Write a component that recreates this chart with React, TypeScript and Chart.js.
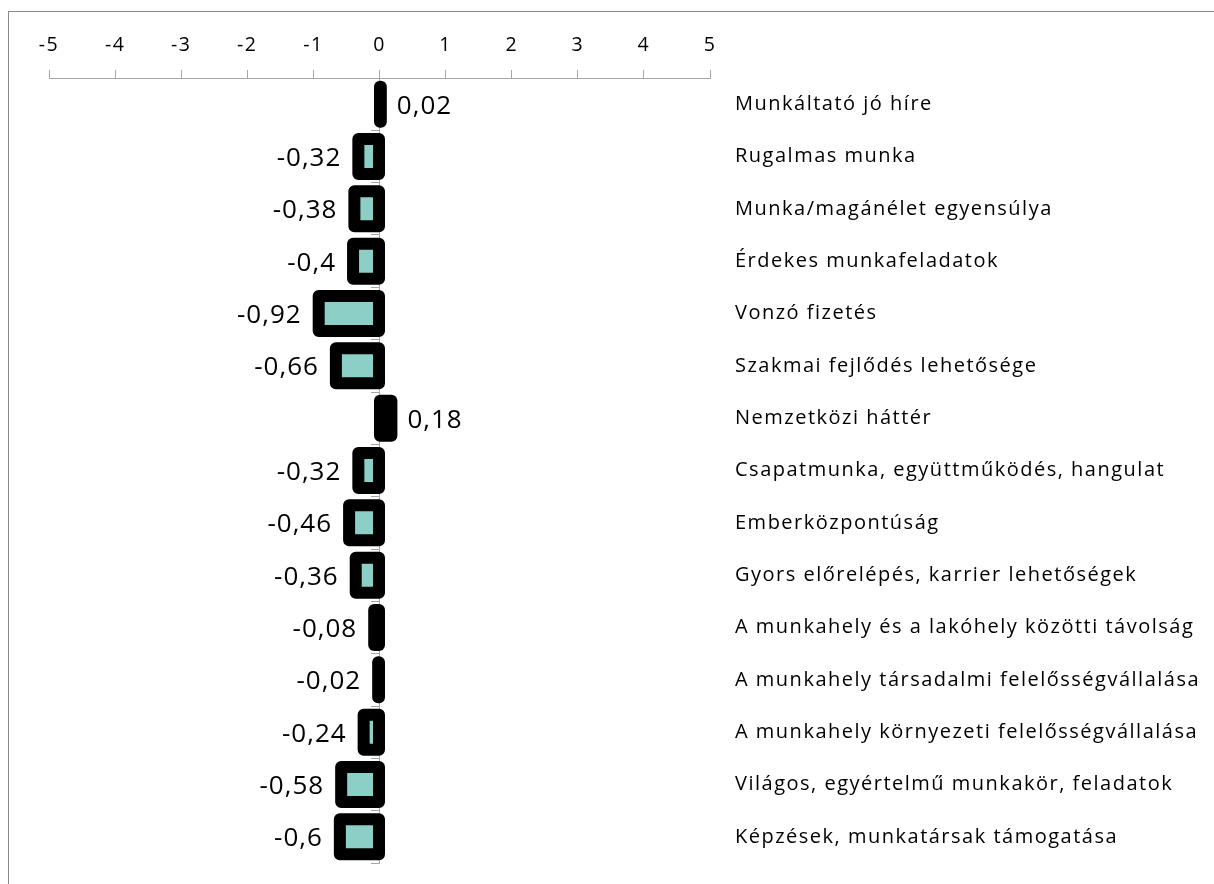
import { useEffect, useRef } from "react";
import { Chart, registerables } from "chart.js";

Chart.register(...registerables);

// Factors of an attractive workplace, with their average score
const categories = [
  "Munkáltató jó híre",
  "Rugalmas munka",
  "Munka/magánélet egyensúlya",
  "Érdekes munkafeladatok",
  "Vonzó fizetés",
  "Szakmai fejlődés lehetősége",
  "Nemzetközi háttér",
  "Csapatmunka, együttműködés, hangulat",
  "Emberközpontúság",
  "Gyors előrelépés, karrier lehetőségek",
  "A munkahely és a lakóhely közötti távolság",
  "A munkahely társadalmi felelősségvállalása",
  "A munkahely környezeti felelősségvállalása",
  "Világos, egyértelmű munkakör, feladatok",
  "Képzések, munkatársak támogatása",
];

const scores = [
  0.02, -0.32, -0.38, -0.4, -0.92, -0.66, 0.18, -0.32, -0.46, -0.36, -0.08,
  -0.02, -0.24, -0.58, -0.6,
];

const axisMin = -5;
const axisMax = 5;

const FONT = "'Open Sans', Lato, sans-serif";
const AXIS_GREY = "#a6a6a6";
const FILL = "#8ccfc6";

const formatHu = (v: number) => String(v).replace(".", ",");

// Thick black outline centred on each bar edge, plus the value labels
const barDecor = {
  id: "barDecor",
  beforeLayout(chart: any) {
    (chart.ctx as any).letterSpacing = "1.5px";
  },
  beforeDraw(chart: any) {
    (chart.ctx as any).letterSpacing = "1.5px";
  },
  afterDatasetsDraw(chart: any) {
    const ctx = chart.ctx as CanvasRenderingContext2D;
    const meta = chart.getDatasetMeta(0);
    ctx.save();
    ctx.strokeStyle = "#000";
    ctx.lineWidth = 12;
    ctx.lineJoin = "round";
    meta.data.forEach((bar: any) => {
      const { x, y, base, height } = bar.getProps(["x", "y", "base", "height"], true);
      const left = Math.min(x, base);
      const w = Math.abs(x - base);
      ctx.strokeRect(left, y - height / 2, w, height);
    });
    ctx.font = `26px ${FONT}`;
    (ctx as any).letterSpacing = "1px";
    ctx.fillStyle = "#000";
    ctx.textBaseline = "middle";
    meta.data.forEach((bar: any, i: number) => {
      const v = scores[i];
      const { x, y } = bar.getProps(["x", "y"], true);
      if (v >= 0) {
        ctx.textAlign = "left";
        ctx.fillText(formatHu(v), x + 16, y + 2);
      } else {
        ctx.textAlign = "right";
        ctx.fillText(formatHu(v), x - 17, y + 2);
      }
    });
    ctx.restore();
    // category names are drawn after the bars, slightly wider tracked
    (ctx as any).letterSpacing = "2.2px";
  },
};

export default function App() {
  const canvasRef = useRef<HTMLCanvasElement | null>(null);

  useEffect(() => {
    if (!canvasRef.current) return;
    const chart = new Chart(canvasRef.current, {
      type: "bar",
      data: {
        labels: categories,
        datasets: [
          {
            data: scores,
            backgroundColor: FILL,
            borderWidth: 0,
            barThickness: 35,
            yAxisID: "y",
          },
        ],
      },
      options: {
        indexAxis: "y",
        animation: false,
        responsive: true,
        maintainAspectRatio: false,
        layout: { padding: { left: 49, right: 0, top: 0, bottom: 21 } },
        plugins: {
          legend: { display: false },
          tooltip: { enabled: false },
        },
        scales: {
          x: {
            type: "linear",
            position: "top",
            min: axisMin,
            max: axisMax,
            ticks: {
              stepSize: 1,
              color: "#000",
              font: { family: FONT, size: 19.5 },
              padding: 13,
            },
            grid: {
              drawOnChartArea: false,
              drawTicks: true,
              tickLength: 8,
              color: AXIS_GREY,
            },
            border: { display: true, color: AXIS_GREY },
            afterFit: (scale: any) => {
              scale.height = 78;
            },
          },
          y: {
            type: "category",
            position: "right",
            offset: true,
            z: 1,
            ticks: {
              color: "#000",
              font: { family: FONT, size: 20 },
              padding: 25,
              crossAlign: "near",
            },
            grid: { display: false, drawTicks: false },
            border: { display: false },
            afterFit: (scale: any) => {
              scale.width = 504;
              scale.paddingTop = 0;
              scale.paddingBottom = 0;
            },
          },
          zero: {
            type: "category",
            axis: "y",
            position: { x: 0 },
            offset: true,
            z: 2,
            ticks: { display: false },
            grid: {
              drawOnChartArea: false,
              drawTicks: true,
              tickLength: 8,
              offset: true,
              color: AXIS_GREY,
            },
            border: { display: true, color: AXIS_GREY },
          },
        },
      } as any,
      plugins: [barDecor],
    });
    return () => chart.destroy();
  }, []);

  return (
    <div style={{ position: "fixed", inset: 0, background: "#fff", overflow: "hidden" }}>
      <div
        style={{
          position: "absolute",
          left: 8,
          top: 11,
          right: -10,
          bottom: -10,
          borderTop: "1px solid #8a8a8a",
          borderLeft: "1px solid #8a8a8a",
        }}
      />
      <div style={{ position: "absolute", left: 0, top: 0, width: 1214, height: 884 }}>
        <canvas ref={canvasRef} />
      </div>
    </div>
  );
}
